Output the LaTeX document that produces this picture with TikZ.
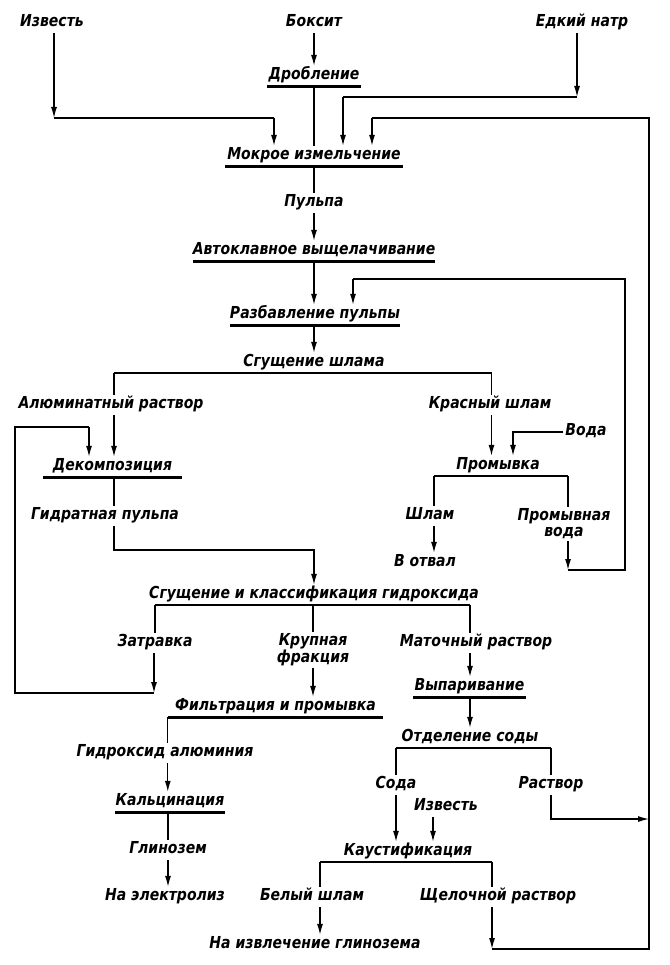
\documentclass[tikz,border=0pt]{standalone}
\usepackage{fontspec}
\setmainfont{DejaVu Sans}[FakeStretch=0.85]
\usetikzlibrary{arrows.meta,calc}
\begin{document}
\begin{tikzpicture}[x=1pt,y=-1pt,
  lbl/.style={font=\fontsize{16.5}{16}\selectfont\bfseries\itshape, inner xsep=2pt, inner ysep=3.5pt, text height=10pt, text depth=3pt},
  two/.style={font=\fontsize{16.5}{16}\selectfont\bfseries\itshape, align=center, inner xsep=2pt, inner ysep=2pt},
  proc/.style={lbl, minimum width=#1, inner xsep=0pt},
  ln/.style={line width=1.3pt},
  arr/.style={ln, -{Latex[length=11pt,width=6pt]}},
  ul/.style={line width=3pt},
  bar/.style={line width=2pt}]
\fill[white] (0,0) rectangle (669,965);
\useasboundingbox (0,0) rectangle (669,965);
% nodes
\node[lbl] (izv1) at (52,23) {Известь};
\node[lbl] (boks) at (314,23) {Боксит};
\node[lbl] (edk) at (582,23) {Едкий натр};
\node[proc=94] (drob) at (314,76) {Дробление};
\node[proc=178] (mokr) at (314,156) {Мокрое измельчение};
\node[lbl] (pulpa) at (314,203) {Пульпа};
\node[proc=241] (avto) at (314,251) {Автоклавное выщелачивание};
\node[proc=164] (razb) at (315,315) {Разбавление пульпы};
\node[lbl] (sgsh) at (314,363) {Сгущение шлама};
\node[lbl] (alum) at (111,405) {Алюминатный раствор};
\node[lbl] (kras) at (490,405) {Красный шлам};
\node[proc=139] (dekom) at (112.5,467) {Декомпозиция};
\node[lbl] (voda) at (586,432) {Вода};
\node[lbl] (prom) at (498,466) {Промывка};
\node[lbl] (gidr) at (105,516) {Гидратная пульпа};
\node[lbl] (shlam) at (430,516) {Шлам};
\node[lbl] (votv) at (425,563) {В отвал};
\node[two] (promv) at (564,524) {Промывная\\вода};
\node[lbl] (sgkl) at (314,595) {Сгущение и классификация гидроксида};
\node[lbl] (zatr) at (155,643) {Затравка};
\node[two] (krup) at (313,650) {Крупная\\фракция};
\node[lbl] (mat) at (476,643) {Маточный раствор};
\node[proc=113] (vyp) at (469.5,687) {Выпаривание};
\node[proc=215] (filt) at (275.5,707) {Фильтрация и промывка};
\node[lbl] (gidal) at (165,753) {Гидроксид алюминия};
\node[lbl] (otd) at (470,738) {Отделение соды};
\node[proc=110] (kalc) at (170,802) {Кальцинация};
\node[lbl] (glin) at (168,850) {Глинозем};
\node[lbl] (elek) at (165,897) {На электролиз};
\node[lbl] (soda) at (396,785) {Сода};
\node[lbl] (rastv) at (551,785) {Раствор};
\node[lbl] (izv2) at (446,807) {Известь};
\node[lbl] (kaus) at (408,852) {Каустификация};
\node[lbl] (bel) at (312,897) {Белый шлам};
\node[lbl] (shch) at (498,897) {Щелочной раствор};
\node[lbl] (izvl) at (315,945) {На извлечение глинозема};
% underlines
\foreach \n in {drob,mokr,avto,razb,dekom,vyp,filt,kalc}
  \draw[ul] (\n.south west) -- (\n.south east);
% coordinates
\coordinate (c1) at (54,118);
\coordinate (c2) at (274,118);
\coordinate (e1) at (577,97);
\coordinate (e2) at (343,97);
\coordinate (r1) at (372,118);
\coordinate (r2) at (649,118);
\coordinate (r3) at (649,949);
\coordinate (r4) at (492,949);
\coordinate (r5) at (551,819);
\coordinate (r6) at (649,819);
\coordinate (i1) at (568,570);
\coordinate (i2) at (625,570);
\coordinate (i3) at (625,279);
\coordinate (i4) at (353,279);
\coordinate (l1) at (154,693);
\coordinate (l2) at (15,693);
\coordinate (l3) at (15,427);
\coordinate (l4) at (89,427);
\coordinate (g1) at (114,550);
\coordinate (g2) at (314,550);
\coordinate (v1) at (513,432);
\coordinate (a2) at (433,807);
\coordinate (sgL) at (114,373);
\coordinate (sgR) at (491.5,373);
\coordinate (pL) at (434,476);
\coordinate (pR) at (568,476);
\coordinate (kL) at (155,605);
\coordinate (kR) at (470,605);
\coordinate (oL) at (396,748);
\coordinate (oR) at (551,748);
\coordinate (kaL) at (320,862);
\coordinate (kaR) at (492,862);
% top inputs
\draw[arr] (izv1.south -| c1) -- (c1);
\draw[ln] (c1) -- (c2);
\draw[arr] (c2) -- (c2 |- mokr.north);
\draw[arr] (boks) -- (drob);
\draw[ln] (drob) -- (mokr);
\draw[arr] (edk.south -| e1) -- (e1);
\draw[ln] (e1) -- (e2);
\draw[arr] (e2) -- (e2 |- mokr.north);
% outer return loop
\draw[arr] (kaR |- shch.south) -- (r4);
\draw[ln] (r4) -- (r3) -- (r2) -- (r1);
\draw[arr] (r1) -- (r1 |- mokr.north);
\draw[arr] (rastv.south) -- (r5) -- (r6);
% main column
\draw[ln] (mokr) -- (pulpa);
\draw[arr] (pulpa) -- (avto);
\draw[arr] (avto.south) -- (avto.south |- razb.north);
\draw[arr] (razb.south -| sgsh) -- (sgsh.north);
% inner return loop
\draw[arr] (i1 |- promv.south) -- (i1);
\draw[ln] (i1) -- (i2) -- (i3) -- (i4);
\draw[arr] (i4) -- (i4 |- razb.north);
% Сгущение шлама
\draw[bar] (sgL) -- (sgR);
\draw[ln] (sgL) -- (sgL |- alum.north);
\draw[ln] (sgR) -- (sgR |- kras.north);
\draw[arr] (sgL |- alum.south) -- (sgL |- dekom.north);
\draw[arr] (sgR |- kras.south) -- (sgR |- prom.north);
\draw[arr] (voda.west) -- (v1) -- (v1 |- prom.north);
% Промывка
\draw[bar] (pL) -- (pR);
\draw[ln] (pL) -- (pL |- shlam.north);
\draw[ln] (pR) -- (pR |- promv.north);
\draw[arr] (pL |- shlam.south) -- (pL |- votv.north);
% left loop
\draw[arr] (zatr.south -| l1) -- (l1);
\draw[ln] (l1) -- (l2) -- (l3) -- (l4);
\draw[arr] (l4) -- (l4 |- dekom.north);
% Декомпозиция
\draw[ln] (dekom.south -| g1) -- (g1 |- gidr.north);
\draw[arr] (g1 |- gidr.south) -- (g1) -- (g2) -- (g2 |- sgkl.north);
% Сгущение и классификация
\draw[bar] (kL) -- (kR);
\draw[ln] (kL) -- (kL |- zatr.north);
\draw[ln] (sgkl.south -| krup) -- (krup.north);
\draw[ln] (kR) -- (kR |- mat.north);
\draw[arr] (krup.south) -- (krup.south |- filt.north);
\draw[arr] (kR |- mat.south) -- (kR |- vyp.north);
\draw[arr] (vyp.south -| kR) -- (kR |- otd.north);
% Фильтрация
\draw[ln] (filt.south west) -- (filt.south west |- gidal.north);
\draw[arr] (filt.south west |- gidal.south) -- (filt.south west |- kalc.north);
\draw[ln] (kalc.south -| glin) -- (glin.north);
\draw[arr] (glin.south) -- (glin.south |- elek.north);
% Отделение соды
\draw[bar] (oL) -- (oR);
\draw[ln] (oL) -- (oL |- soda.north);
\draw[ln] (oR) -- (oR |- rastv.north);
\draw[arr] (soda.south) -- (soda.south |- kaus.north);
\draw[arr] (a2 |- izv2.south) -- (a2 |- kaus.north);
% Каустификация
\draw[bar] (kaL) -- (kaR);
\draw[ln] (kaL) -- (kaL |- bel.north);
\draw[ln] (kaR) -- (kaR |- shch.north);
\draw[arr] (kaL |- bel.south) -- (kaL |- izvl.north);
\end{tikzpicture}
\end{document}
